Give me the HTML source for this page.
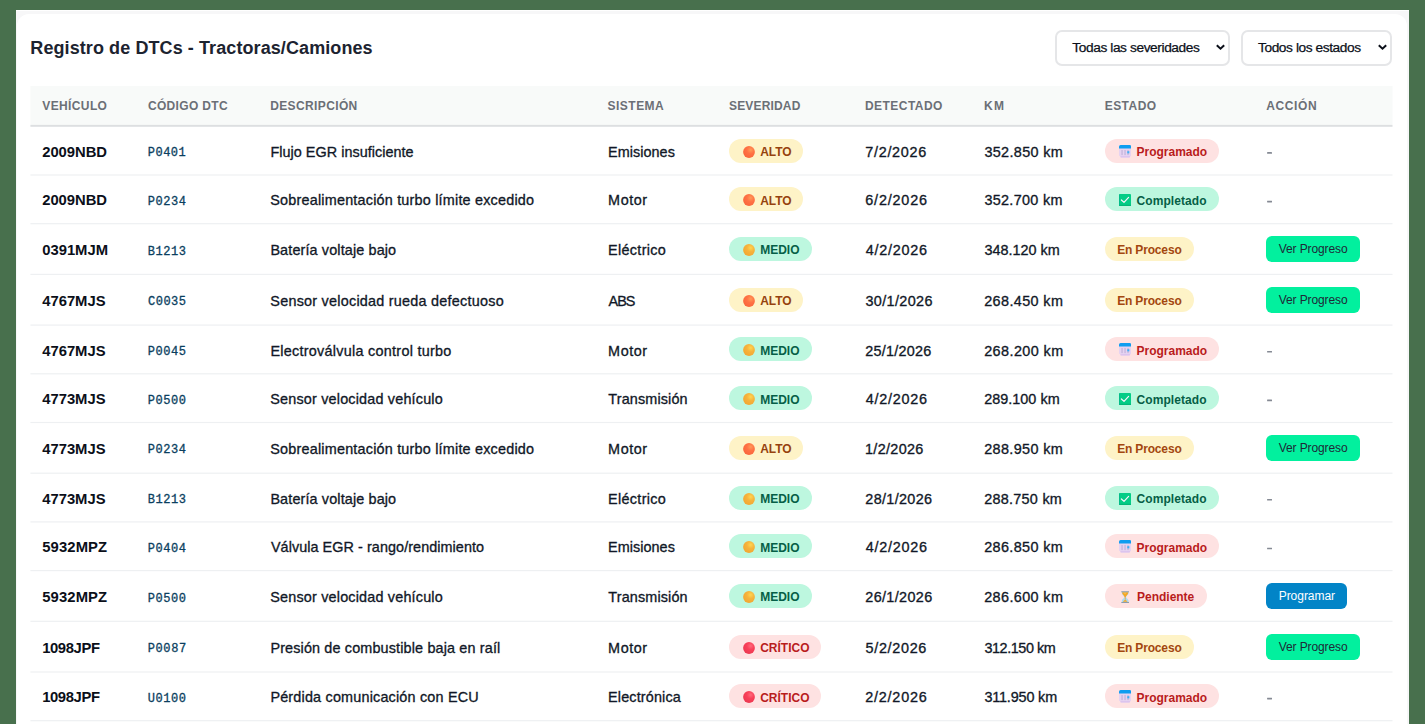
<!DOCTYPE html><html lang="es"><head><meta charset="utf-8"><title>Registro de DTCs</title><style>
*{box-sizing:border-box;margin:0;padding:0}
html,body{width:1425px;height:724px;overflow:hidden}
body{background:#48704d;font-family:"Liberation Sans",sans-serif;position:relative;color:#111827}
.page{position:absolute;left:16px;top:10px;width:1393px;height:714px;background:#fff;overflow:hidden}
.pbg{position:absolute;left:0.3px;top:1.3px;width:1392.3px;height:740px;background:#f7f7f8}
.card{position:absolute;left:1.4px;top:3.7px;width:1389.2px;height:740px;background:#fff;border-radius:12px}
.abs{position:absolute;white-space:nowrap}
.title{top:37px;font-size:18px;font-weight:700;color:#1c2330;line-height:22px}
.sel{position:absolute;top:30px;height:35.5px;border:2px solid #e5e6e8;border-radius:7px;background:#fff;font-size:13.7px;color:#0b0f19;line-height:31.5px;white-space:nowrap;-webkit-text-stroke:0.25px #0b0f19}
.sel span{position:absolute;top:0}
.sel svg{position:absolute;right:2.3px;top:11.4px}
.thead{position:absolute;left:30px;top:86px;width:1362px;height:40.3px;background:#f8faf9;border-bottom:2px solid #e3e6e8}
.th{position:absolute;top:99px;font-size:12px;font-weight:700;color:#6b6f76;line-height:14px;white-space:nowrap}
.grid{position:absolute;left:0;top:0}
.c{position:absolute;white-space:nowrap;line-height:16px;font-size:14.4px;color:#111827;-webkit-text-stroke:0.32px #111827}
.veh{font-weight:700;font-size:14.8px;color:#0b0f19;-webkit-text-stroke:0}
.code{font-family:"Liberation Mono",monospace;font-size:12px;color:#0b3f5f;-webkit-text-stroke:0.3px #0b3f5f}
.dash{color:#6b7280;font-size:12px;-webkit-text-stroke:0}
.pill{position:absolute;height:24px;border-radius:12px;font-size:12px;font-weight:700;line-height:24px;white-space:nowrap}
.pill .ic{position:absolute;left:14px;top:7px;display:block}
.sv-amber{background:#fef3c7;color:#96420e}
.sv-green{background:#bdf7df;color:#065f46}
.sv-red{background:#fee2e2;color:#b91c1c}
.st-red{background:#fee2e2;color:#b91c1c}
.st-green{background:#bdf7df;color:#065f46}
.st-amber{background:#fef3c7;color:#a3470f}
.pill span{position:absolute}
.btn{position:absolute;height:26px;border-radius:6px;font-size:12px;line-height:26px;white-space:nowrap}
.btn span{position:absolute;top:0}
.b-ver{background:#02f09e;color:#1f2937}
.b-prog{background:#0284c7;color:#fff}
</style></head><body>
<div class="page"><div class="pbg"></div><div class="card"></div></div>
<div class="abs title" style="left:30.3px;letter-spacing:0.089px">Registro de DTCs - Tractoras/Camiones</div>
<div class="sel" style="left:1055px;width:175.2px"><span style="left:15.3px;letter-spacing:-0.394px">Todas las severidades</span><svg width="11" height="8" viewBox="0 0 11 8"><path d="M1.8 2.3 L5.5 5.7 L9.2 2.3" fill="none" stroke="#0b0f19" stroke-width="2" stroke-linecap="butt" stroke-linejoin="miter"/></svg></div>
<div class="sel" style="left:1241px;width:151px"><span style="left:15px;letter-spacing:-0.408px">Todos los estados</span><svg width="11" height="8" viewBox="0 0 11 8"><path d="M1.8 2.3 L5.5 5.7 L9.2 2.3" fill="none" stroke="#0b0f19" stroke-width="2" stroke-linecap="butt" stroke-linejoin="miter"/></svg></div>
<svg class="grid" width="1425" height="724" viewBox="0 0 1425 724"><rect x="30.4" y="86" width="1362.1" height="39" fill="#f8faf9"/><rect x="30.4" y="124.9" width="1362.1" height="1.9" fill="#dddfe1"/><rect x="1267.1" y="152.10" width="4.9" height="1.6" rx="0.3" fill="#858a94"/><rect x="30.4" y="174.40" width="1362.1" height="1.2" fill="#eef0f2"/><rect x="1267.1" y="200.80" width="4.9" height="1.6" rx="0.3" fill="#858a94"/><rect x="30.4" y="223.10" width="1362.1" height="1.2" fill="#eef0f2"/><rect x="30.4" y="273.80" width="1362.1" height="1.2" fill="#eef0f2"/><rect x="30.4" y="324.50" width="1362.1" height="1.2" fill="#eef0f2"/><rect x="1267.1" y="350.90" width="4.9" height="1.6" rx="0.3" fill="#858a94"/><rect x="30.4" y="373.20" width="1362.1" height="1.2" fill="#eef0f2"/><rect x="1267.1" y="399.60" width="4.9" height="1.6" rx="0.3" fill="#858a94"/><rect x="30.4" y="421.90" width="1362.1" height="1.2" fill="#eef0f2"/><rect x="30.4" y="472.60" width="1362.1" height="1.2" fill="#eef0f2"/><rect x="1267.1" y="499.00" width="4.9" height="1.6" rx="0.3" fill="#858a94"/><rect x="30.4" y="521.30" width="1362.1" height="1.2" fill="#eef0f2"/><rect x="1267.1" y="547.70" width="4.9" height="1.6" rx="0.3" fill="#858a94"/><rect x="30.4" y="570.00" width="1362.1" height="1.2" fill="#eef0f2"/><rect x="30.4" y="620.70" width="1362.1" height="1.2" fill="#eef0f2"/><rect x="30.4" y="671.40" width="1362.1" height="1.2" fill="#eef0f2"/><rect x="1267.1" y="697.80" width="4.9" height="1.6" rx="0.3" fill="#858a94"/><rect x="30.4" y="720.10" width="1362.1" height="1.2" fill="#eef0f2"/></svg>
<div class="th" style="left:42.3px;letter-spacing:0.376px">VEHÍCULO</div>
<div class="th" style="left:147.9px;letter-spacing:0.345px">CÓDIGO DTC</div>
<div class="th" style="left:270.2px;letter-spacing:0.372px">DESCRIPCIÓN</div>
<div class="th" style="left:607.6px;letter-spacing:0.471px">SISTEMA</div>
<div class="th" style="left:729px;letter-spacing:0.169px">SEVERIDAD</div>
<div class="th" style="left:865px;letter-spacing:0.457px">DETECTADO</div>
<div class="th" style="left:983.9px;letter-spacing:1.434px">KM</div>
<div class="th" style="left:1104.7px;letter-spacing:0.464px">ESTADO</div>
<div class="th" style="left:1266.3px;letter-spacing:0.587px">ACCIÓN</div>
<div class="c veh" style="left:42.2px;top:144px;letter-spacing:-0.031px">2009NBD</div>
<div class="c code" style="left:147.7px;top:145px;letter-spacing:0.524px">P0401</div>
<div class="c " style="left:270.4px;top:144px;letter-spacing:0.04px">Flujo EGR insuficiente</div>
<div class="c " style="left:608.1px;top:144px;letter-spacing:0.047px">Emisiones</div>
<div class="pill sv-amber" style="left:729.3px;top:139px;width:73.8px"><svg class="ic" width="12" height="12" viewBox="0 0 12 12"><defs><radialGradient id="ga" cx="0.64" cy="0.32" r="0.8"><stop offset="0" stop-color="#ff9a58"/><stop offset="0.4" stop-color="#ff7244"/><stop offset="1" stop-color="#f8633a"/></radialGradient></defs><circle cx="6" cy="6" r="5.9" fill="url(#ga)"/></svg><span style="left:30.9px;top:1px;letter-spacing:-0.073px">ALTO</span></div>
<div class="c " style="left:865.3px;top:144px;letter-spacing:0.694px">7/2/2026</div>
<div class="c " style="left:984.4px;top:144px;letter-spacing:0.35px">352.850 km</div>
<div class="pill st-red" style="left:1105px;top:139px;width:113.8px"><svg class="ic" style="top:6.4px;left:13.8px" width="12.4" height="12.4" viewBox="0 0 12 12"><path d="M0 3 h12 v6.6 a1.4 1.4 0 0 1 -1.4 1.4 h-0.6 v1 h-8 v-1 h-0.6 a1.4 1.4 0 0 1 -1.4 -1.4z" fill="#e6d3f1"/><rect x="1.2" y="10.6" width="9.6" height="1.4" rx="0.6" fill="#dcc4ee"/><path d="M0 3.4 v-1.8 a1.6 1.6 0 0 1 1.6 -1.6 h8.8 a1.6 1.6 0 0 1 1.6 1.6 v1.8z" fill="#0f9df0"/><g fill="#c6b6dc"><rect x="2.3" y="4.8" width="1.3" height="5"/><rect x="5.2" y="4.8" width="1.3" height="5"/><rect x="8.1" y="4.8" width="1.3" height="5"/></g><rect x="8" y="6" width="2" height="2.1" fill="#3fb0f5"/></svg><span style="left:31.6px;top:1px;letter-spacing:-0.017px">Programado</span></div>
<div class="c veh" style="left:42.2px;top:192px;letter-spacing:-0.031px">2009NBD</div>
<div class="c code" style="left:147.7px;top:194px;letter-spacing:0.549px">P0234</div>
<div class="c " style="left:270.3px;top:192px;letter-spacing:0.204px">Sobrealimentación turbo límite excedido</div>
<div class="c " style="left:608.1px;top:192px;letter-spacing:0.572px">Motor</div>
<div class="pill sv-amber" style="left:729.3px;top:187px;width:73.8px"><svg class="ic" width="12" height="12" viewBox="0 0 12 12"><defs><radialGradient id="ga" cx="0.64" cy="0.32" r="0.8"><stop offset="0" stop-color="#ff9a58"/><stop offset="0.4" stop-color="#ff7244"/><stop offset="1" stop-color="#f8633a"/></radialGradient></defs><circle cx="6" cy="6" r="5.9" fill="url(#ga)"/></svg><span style="left:30.9px;top:2px;letter-spacing:-0.073px">ALTO</span></div>
<div class="c " style="left:865.3px;top:192px;letter-spacing:0.808px">6/2/2026</div>
<div class="c " style="left:984.4px;top:192px;letter-spacing:0.316px">352.700 km</div>
<div class="pill st-green" style="left:1105px;top:187px;width:113.8px"><svg class="ic" style="top:6.7px;left:14.2px" width="12" height="12" viewBox="0 0 12 12"><rect x="0" y="0" width="12" height="12" rx="1" fill="#04cd86"/><rect x="0" y="10.8" width="12" height="1.2" rx="0.6" fill="#02b877"/><rect x="0" y="0.5" width="0.8" height="11" fill="#04b98a"/><path d="M2.4 6 L5 8.4 L9.6 3.4" fill="none" stroke="#fdf4fb" stroke-width="1.2" stroke-linecap="round" stroke-linejoin="round"/></svg><span style="left:31.6px;top:2px;letter-spacing:0.066px">Completado</span></div>
<div class="c veh" style="left:42.2px;top:242px;letter-spacing:0.005px">0391MJM</div>
<div class="c code" style="left:147.7px;top:244px;letter-spacing:0.574px">B1213</div>
<div class="c " style="left:270.4px;top:242px;letter-spacing:0.133px">Batería voltaje bajo</div>
<div class="c " style="left:608.1px;top:242px;letter-spacing:0.312px">Eléctrico</div>
<div class="pill sv-green" style="left:729.3px;top:237px;width:82.5px"><svg class="ic" width="12" height="12" viewBox="0 0 12 12"><defs><radialGradient id="gm" cx="0.64" cy="0.32" r="0.8"><stop offset="0" stop-color="#ffd550"/><stop offset="0.4" stop-color="#f6b33c"/><stop offset="1" stop-color="#f1a530"/></radialGradient></defs><circle cx="6" cy="6" r="5.9" fill="url(#gm)"/></svg><span style="left:30.9px;top:1px;letter-spacing:0.0px">MEDIO</span></div>
<div class="c " style="left:865.7px;top:242px;letter-spacing:0.751px">4/2/2026</div>
<div class="c " style="left:984.4px;top:242px;letter-spacing:0.005px">348.120 km</div>
<div class="pill st-amber" style="left:1105px;top:237px;width:89px"><span style="left:12.2px;top:1px;letter-spacing:-0.166px">En Proceso</span></div>
<div class="btn b-ver" style="left:1266px;top:236px;width:94px"><span style="left:12.7px;letter-spacing:-0.097px">Ver Progreso</span></div>
<div class="c veh" style="left:42.2px;top:293px;letter-spacing:0.005px">4767MJS</div>
<div class="c code" style="left:148.0px;top:294px;letter-spacing:0.499px">C0035</div>
<div class="c " style="left:270.3px;top:293px;letter-spacing:0.242px">Sensor velocidad rueda defectuoso</div>
<div class="c " style="left:608.6px;top:293px;letter-spacing:-1.005px">ABS</div>
<div class="pill sv-amber" style="left:729.3px;top:288px;width:73.8px"><svg class="ic" width="12" height="12" viewBox="0 0 12 12"><defs><radialGradient id="ga" cx="0.64" cy="0.32" r="0.8"><stop offset="0" stop-color="#ff9a58"/><stop offset="0.4" stop-color="#ff7244"/><stop offset="1" stop-color="#f8633a"/></radialGradient></defs><circle cx="6" cy="6" r="5.9" fill="url(#ga)"/></svg><span style="left:30.9px;top:1px;letter-spacing:-0.073px">ALTO</span></div>
<div class="c " style="left:865.5px;top:293px;letter-spacing:0.368px">30/1/2026</div>
<div class="c " style="left:984.2px;top:293px;letter-spacing:0.394px">268.450 km</div>
<div class="pill st-amber" style="left:1105px;top:288px;width:89px"><span style="left:12.2px;top:1px;letter-spacing:-0.166px">En Proceso</span></div>
<div class="btn b-ver" style="left:1266px;top:287px;width:94px"><span style="left:12.7px;letter-spacing:-0.097px">Ver Progreso</span></div>
<div class="c veh" style="left:42.2px;top:343px;letter-spacing:0.005px">4767MJS</div>
<div class="c code" style="left:147.7px;top:344px;letter-spacing:0.574px">P0045</div>
<div class="c " style="left:270.4px;top:343px;letter-spacing:0.271px">Electroválvula control turbo</div>
<div class="c " style="left:608.1px;top:343px;letter-spacing:0.572px">Motor</div>
<div class="pill sv-green" style="left:729.3px;top:337px;width:82.5px"><svg class="ic" width="12" height="12" viewBox="0 0 12 12"><defs><radialGradient id="gm" cx="0.64" cy="0.32" r="0.8"><stop offset="0" stop-color="#ffd550"/><stop offset="0.4" stop-color="#f6b33c"/><stop offset="1" stop-color="#f1a530"/></radialGradient></defs><circle cx="6" cy="6" r="5.9" fill="url(#gm)"/></svg><span style="left:30.9px;top:2px;letter-spacing:0.0px">MEDIO</span></div>
<div class="c " style="left:865.3px;top:343px;letter-spacing:0.256px">25/1/2026</div>
<div class="c " style="left:984.2px;top:343px;letter-spacing:0.427px">268.200 km</div>
<div class="pill st-red" style="left:1105px;top:337px;width:113.8px"><svg class="ic" style="top:6.4px;left:13.8px" width="12.4" height="12.4" viewBox="0 0 12 12"><path d="M0 3 h12 v6.6 a1.4 1.4 0 0 1 -1.4 1.4 h-0.6 v1 h-8 v-1 h-0.6 a1.4 1.4 0 0 1 -1.4 -1.4z" fill="#e6d3f1"/><rect x="1.2" y="10.6" width="9.6" height="1.4" rx="0.6" fill="#dcc4ee"/><path d="M0 3.4 v-1.8 a1.6 1.6 0 0 1 1.6 -1.6 h8.8 a1.6 1.6 0 0 1 1.6 1.6 v1.8z" fill="#0f9df0"/><g fill="#c6b6dc"><rect x="2.3" y="4.8" width="1.3" height="5"/><rect x="5.2" y="4.8" width="1.3" height="5"/><rect x="8.1" y="4.8" width="1.3" height="5"/></g><rect x="8" y="6" width="2" height="2.1" fill="#3fb0f5"/></svg><span style="left:31.6px;top:2px;letter-spacing:-0.017px">Programado</span></div>
<div class="c veh" style="left:42.2px;top:391px;letter-spacing:0.005px">4773MJS</div>
<div class="c code" style="left:147.7px;top:393px;letter-spacing:0.574px">P0500</div>
<div class="c " style="left:270.3px;top:391px;letter-spacing:0.184px">Sensor velocidad vehículo</div>
<div class="c " style="left:608.3px;top:391px;letter-spacing:0.142px">Transmisión</div>
<div class="pill sv-green" style="left:729.3px;top:386px;width:82.5px"><svg class="ic" width="12" height="12" viewBox="0 0 12 12"><defs><radialGradient id="gm" cx="0.64" cy="0.32" r="0.8"><stop offset="0" stop-color="#ffd550"/><stop offset="0.4" stop-color="#f6b33c"/><stop offset="1" stop-color="#f1a530"/></radialGradient></defs><circle cx="6" cy="6" r="5.9" fill="url(#gm)"/></svg><span style="left:30.9px;top:2px;letter-spacing:0.0px">MEDIO</span></div>
<div class="c " style="left:865.7px;top:391px;letter-spacing:0.751px">4/2/2026</div>
<div class="c " style="left:984.2px;top:391px;letter-spacing:0.027px">289.100 km</div>
<div class="pill st-green" style="left:1105px;top:386px;width:113.8px"><svg class="ic" style="top:6.7px;left:14.2px" width="12" height="12" viewBox="0 0 12 12"><rect x="0" y="0" width="12" height="12" rx="1" fill="#04cd86"/><rect x="0" y="10.8" width="12" height="1.2" rx="0.6" fill="#02b877"/><rect x="0" y="0.5" width="0.8" height="11" fill="#04b98a"/><path d="M2.4 6 L5 8.4 L9.6 3.4" fill="none" stroke="#fdf4fb" stroke-width="1.2" stroke-linecap="round" stroke-linejoin="round"/></svg><span style="left:31.6px;top:2px;letter-spacing:0.066px">Completado</span></div>
<div class="c veh" style="left:42.2px;top:441px;letter-spacing:0.005px">4773MJS</div>
<div class="c code" style="left:147.7px;top:442px;letter-spacing:0.549px">P0234</div>
<div class="c " style="left:270.3px;top:441px;letter-spacing:0.204px">Sobrealimentación turbo límite excedido</div>
<div class="c " style="left:608.1px;top:441px;letter-spacing:0.572px">Motor</div>
<div class="pill sv-amber" style="left:729.3px;top:436px;width:73.8px"><svg class="ic" width="12" height="12" viewBox="0 0 12 12"><defs><radialGradient id="ga" cx="0.64" cy="0.32" r="0.8"><stop offset="0" stop-color="#ff9a58"/><stop offset="0.4" stop-color="#ff7244"/><stop offset="1" stop-color="#f8633a"/></radialGradient></defs><circle cx="6" cy="6" r="5.9" fill="url(#ga)"/></svg><span style="left:30.9px;top:1px;letter-spacing:-0.073px">ALTO</span></div>
<div class="c " style="left:865.0px;top:441px;letter-spacing:0.336px">1/2/2026</div>
<div class="c " style="left:984.2px;top:441px;letter-spacing:0.372px">288.950 km</div>
<div class="pill st-amber" style="left:1105px;top:436px;width:89px"><span style="left:12.2px;top:1px;letter-spacing:-0.166px">En Proceso</span></div>
<div class="btn b-ver" style="left:1266px;top:435px;width:94px"><span style="left:12.7px;letter-spacing:-0.097px">Ver Progreso</span></div>
<div class="c veh" style="left:42.2px;top:491px;letter-spacing:0.005px">4773MJS</div>
<div class="c code" style="left:147.7px;top:492px;letter-spacing:0.574px">B1213</div>
<div class="c " style="left:270.4px;top:491px;letter-spacing:0.133px">Batería voltaje bajo</div>
<div class="c " style="left:608.1px;top:491px;letter-spacing:0.312px">Eléctrico</div>
<div class="pill sv-green" style="left:729.3px;top:486px;width:82.5px"><svg class="ic" width="12" height="12" viewBox="0 0 12 12"><defs><radialGradient id="gm" cx="0.64" cy="0.32" r="0.8"><stop offset="0" stop-color="#ffd550"/><stop offset="0.4" stop-color="#f6b33c"/><stop offset="1" stop-color="#f1a530"/></radialGradient></defs><circle cx="6" cy="6" r="5.9" fill="url(#gm)"/></svg><span style="left:30.9px;top:1px;letter-spacing:0.0px">MEDIO</span></div>
<div class="c " style="left:865.3px;top:491px;letter-spacing:0.331px">28/1/2026</div>
<div class="c " style="left:984.2px;top:491px;letter-spacing:0.272px">288.750 km</div>
<div class="pill st-green" style="left:1105px;top:486px;width:113.8px"><svg class="ic" style="top:6.7px;left:14.2px" width="12" height="12" viewBox="0 0 12 12"><rect x="0" y="0" width="12" height="12" rx="1" fill="#04cd86"/><rect x="0" y="10.8" width="12" height="1.2" rx="0.6" fill="#02b877"/><rect x="0" y="0.5" width="0.8" height="11" fill="#04b98a"/><path d="M2.4 6 L5 8.4 L9.6 3.4" fill="none" stroke="#fdf4fb" stroke-width="1.2" stroke-linecap="round" stroke-linejoin="round"/></svg><span style="left:31.6px;top:1px;letter-spacing:0.066px">Completado</span></div>
<div class="c veh" style="left:42.2px;top:539px;letter-spacing:0.131px">5932MPZ</div>
<div class="c code" style="left:147.7px;top:541px;letter-spacing:0.549px">P0404</div>
<div class="c " style="left:270.9px;top:539px;letter-spacing:0.067px">Válvula EGR - rango/rendimiento</div>
<div class="c " style="left:608.1px;top:539px;letter-spacing:0.047px">Emisiones</div>
<div class="pill sv-green" style="left:729.3px;top:534px;width:82.5px"><svg class="ic" width="12" height="12" viewBox="0 0 12 12"><defs><radialGradient id="gm" cx="0.64" cy="0.32" r="0.8"><stop offset="0" stop-color="#ffd550"/><stop offset="0.4" stop-color="#f6b33c"/><stop offset="1" stop-color="#f1a530"/></radialGradient></defs><circle cx="6" cy="6" r="5.9" fill="url(#gm)"/></svg><span style="left:30.9px;top:2px;letter-spacing:0.0px">MEDIO</span></div>
<div class="c " style="left:865.7px;top:539px;letter-spacing:0.751px">4/2/2026</div>
<div class="c " style="left:984.2px;top:539px;letter-spacing:0.372px">286.850 km</div>
<div class="pill st-red" style="left:1105px;top:534px;width:113.8px"><svg class="ic" style="top:6.4px;left:13.8px" width="12.4" height="12.4" viewBox="0 0 12 12"><path d="M0 3 h12 v6.6 a1.4 1.4 0 0 1 -1.4 1.4 h-0.6 v1 h-8 v-1 h-0.6 a1.4 1.4 0 0 1 -1.4 -1.4z" fill="#e6d3f1"/><rect x="1.2" y="10.6" width="9.6" height="1.4" rx="0.6" fill="#dcc4ee"/><path d="M0 3.4 v-1.8 a1.6 1.6 0 0 1 1.6 -1.6 h8.8 a1.6 1.6 0 0 1 1.6 1.6 v1.8z" fill="#0f9df0"/><g fill="#c6b6dc"><rect x="2.3" y="4.8" width="1.3" height="5"/><rect x="5.2" y="4.8" width="1.3" height="5"/><rect x="8.1" y="4.8" width="1.3" height="5"/></g><rect x="8" y="6" width="2" height="2.1" fill="#3fb0f5"/></svg><span style="left:31.6px;top:2px;letter-spacing:-0.017px">Programado</span></div>
<div class="c veh" style="left:42.2px;top:589px;letter-spacing:0.131px">5932MPZ</div>
<div class="c code" style="left:147.7px;top:591px;letter-spacing:0.574px">P0500</div>
<div class="c " style="left:270.3px;top:589px;letter-spacing:0.184px">Sensor velocidad vehículo</div>
<div class="c " style="left:608.3px;top:589px;letter-spacing:0.142px">Transmisión</div>
<div class="pill sv-green" style="left:729.3px;top:584px;width:82.5px"><svg class="ic" width="12" height="12" viewBox="0 0 12 12"><defs><radialGradient id="gm" cx="0.64" cy="0.32" r="0.8"><stop offset="0" stop-color="#ffd550"/><stop offset="0.4" stop-color="#f6b33c"/><stop offset="1" stop-color="#f1a530"/></radialGradient></defs><circle cx="6" cy="6" r="5.9" fill="url(#gm)"/></svg><span style="left:30.9px;top:1px;letter-spacing:0.0px">MEDIO</span></div>
<div class="c " style="left:865.3px;top:589px;letter-spacing:0.356px">26/1/2026</div>
<div class="c " style="left:984.2px;top:589px;letter-spacing:0.394px">286.600 km</div>
<div class="pill st-red" style="left:1105px;top:584px;width:101.6px"><svg class="ic" style="left:15.8px;top:7.1px" width="8.4" height="12.2" viewBox="0 0 8.4 12.4"><path d="M0.7 0.8 h7 v1.2 c0 2 -2.6 2.8 -2.6 4.2 c0 1.4 2.6 2.2 2.6 4.2 v1.2 h-7 v-1.2 c0 -2 2.6 -2.8 2.6 -4.2 c0 -1.4 -2.6 -2.2 -2.6 -4.2z" fill="#a9dcf7"/><path d="M1.1 1.2 h6.2 v0.9 c0 1.7 -2.3 2.6 -2.5 3.9 h-1.2 c-0.2 -1.3 -2.5 -2.2 -2.5 -3.9z" fill="#f6a623"/><path d="M2.2 1.6 h3 c0 0.8 -0.6 1.4 -1.2 1.8z" fill="#fbc04e"/><rect x="3.8" y="5.6" width="0.8" height="3.4" fill="#f0a030"/><path d="M1.9 11 c0.2 -1 1.2 -1.6 2.3 -1.9 c1.1 0.3 2.1 0.9 2.3 1.9z" fill="#f6a623"/><rect x="0.2" y="0.3" width="8" height="0.9" rx="0.3" fill="#8d9cab"/><rect x="0.2" y="11.1" width="8" height="1" rx="0.3" fill="#8d9cab"/></svg><span style="left:32.1px;top:1px;letter-spacing:-0.021px">Pendiente</span></div>
<div class="btn b-prog" style="left:1266px;top:583px;width:81px"><span style="left:12.7px;letter-spacing:-0.036px">Programar</span></div>
<div class="c veh" style="left:42.2px;top:640px;letter-spacing:-0.386px">1098JPF</div>
<div class="c code" style="left:147.7px;top:641px;letter-spacing:0.624px">P0087</div>
<div class="c " style="left:270.4px;top:640px;letter-spacing:0.149px">Presión de combustible baja en raíl</div>
<div class="c " style="left:608.1px;top:640px;letter-spacing:0.572px">Motor</div>
<div class="pill sv-red" style="left:729.3px;top:635px;width:91.7px"><svg class="ic" width="12" height="12" viewBox="0 0 12 12"><defs><radialGradient id="gc" cx="0.64" cy="0.32" r="0.8"><stop offset="0" stop-color="#ff6a7c"/><stop offset="0.4" stop-color="#f94059"/><stop offset="1" stop-color="#e8374f"/></radialGradient></defs><circle cx="6" cy="6" r="5.9" fill="url(#gc)"/></svg><span style="left:30.9px;top:1px;letter-spacing:0.001px">CRÍTICO</span></div>
<div class="c " style="left:865.5px;top:640px;letter-spacing:0.694px">5/2/2026</div>
<div class="c " style="left:984.4px;top:640px;letter-spacing:-0.417px">312.150 km</div>
<div class="pill st-amber" style="left:1105px;top:635px;width:89px"><span style="left:12.2px;top:1px;letter-spacing:-0.166px">En Proceso</span></div>
<div class="btn b-ver" style="left:1266px;top:634px;width:94px"><span style="left:12.7px;letter-spacing:-0.097px">Ver Progreso</span></div>
<div class="c veh" style="left:42.2px;top:689px;letter-spacing:-0.386px">1098JPF</div>
<div class="c code" style="left:147.8px;top:691px;letter-spacing:0.549px">U0100</div>
<div class="c " style="left:270.4px;top:689px;letter-spacing:0.189px">Pérdida comunicación con ECU</div>
<div class="c " style="left:608.1px;top:689px;letter-spacing:0.147px">Electrónica</div>
<div class="pill sv-red" style="left:729.3px;top:684px;width:91.7px"><svg class="ic" width="12" height="12" viewBox="0 0 12 12"><defs><radialGradient id="gc" cx="0.64" cy="0.32" r="0.8"><stop offset="0" stop-color="#ff6a7c"/><stop offset="0.4" stop-color="#f94059"/><stop offset="1" stop-color="#e8374f"/></radialGradient></defs><circle cx="6" cy="6" r="5.9" fill="url(#gc)"/></svg><span style="left:30.9px;top:2px;letter-spacing:0.001px">CRÍTICO</span></div>
<div class="c " style="left:865.3px;top:689px;letter-spacing:0.765px">2/2/2026</div>
<div class="c " style="left:984.4px;top:689px;letter-spacing:-0.154px">311.950 km</div>
<div class="pill st-red" style="left:1105px;top:684px;width:113.8px"><svg class="ic" style="top:6.4px;left:13.8px" width="12.4" height="12.4" viewBox="0 0 12 12"><path d="M0 3 h12 v6.6 a1.4 1.4 0 0 1 -1.4 1.4 h-0.6 v1 h-8 v-1 h-0.6 a1.4 1.4 0 0 1 -1.4 -1.4z" fill="#e6d3f1"/><rect x="1.2" y="10.6" width="9.6" height="1.4" rx="0.6" fill="#dcc4ee"/><path d="M0 3.4 v-1.8 a1.6 1.6 0 0 1 1.6 -1.6 h8.8 a1.6 1.6 0 0 1 1.6 1.6 v1.8z" fill="#0f9df0"/><g fill="#c6b6dc"><rect x="2.3" y="4.8" width="1.3" height="5"/><rect x="5.2" y="4.8" width="1.3" height="5"/><rect x="8.1" y="4.8" width="1.3" height="5"/></g><rect x="8" y="6" width="2" height="2.1" fill="#3fb0f5"/></svg><span style="left:31.6px;top:2px;letter-spacing:-0.017px">Programado</span></div>
</body></html>
